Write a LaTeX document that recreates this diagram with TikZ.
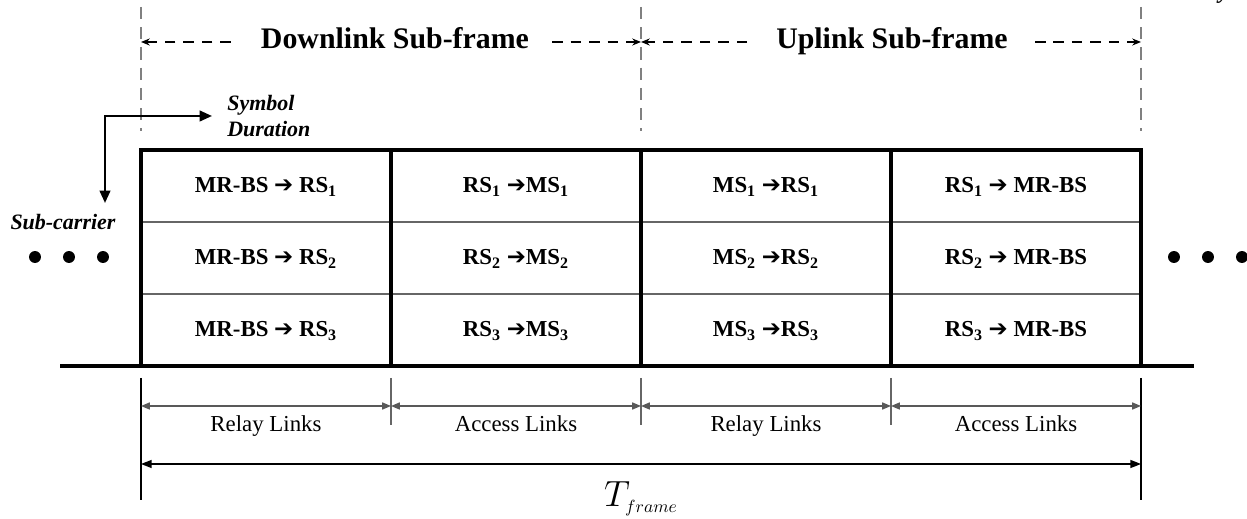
\documentclass[tikz,border=0pt]{standalone}
\usepackage{fontspec}
\setmainfont{Liberation Serif}
\newfontfamily\symfont{DejaVu Sans}
\usetikzlibrary{arrows.meta}

% link arrow used inside the cells
\newcommand\hop{{\symfont\fontsize{13}{14}\selectfont ➔}}
\newcommand\sub[1]{\textsubscript{#1}}

\tikzset{
  frameline/.style={line width=2pt, line cap=rect},
  rowline/.style={draw=black!60, line width=0.7pt},
  guide/.style={draw=black!50, line width=0.8pt, dash pattern=on 7pt off 4.5pt},
  headarrow/.style={line width=0.7pt, dash pattern=on 6pt off 4.5pt, -{Stealth[length=5pt,width=4pt]}},
  headtext/.style={font=\fontsize{17}{20}\selectfont\bfseries, inner sep=0pt, anchor=base},
  cell/.style={font=\fontsize{13}{15}\selectfont\bfseries, anchor=base},
  tag/.style={font=\fontsize{12.5}{14.7}\selectfont\bfseries\itshape, align=left, inner sep=0pt},
  dim/.style={draw=black!65, line width=0.7pt, {Triangle[length=5pt,width=4pt]}-{Triangle[length=5pt,width=4pt]}},
  span/.style={draw=black, line width=0.8pt, {Triangle[length=6pt,width=4.5pt]}-{Triangle[length=6pt,width=4.5pt]}},
  dimtext/.style={font=\fontsize{13}{15}\selectfont, anchor=base},
  bigtick/.style={line width=1.5pt},
  smalltick/.style={draw=black!60, line width=0.7pt},
  dot/.style={circle, fill, inner sep=0pt, minimum size=6.8pt},
  elbow/.style={line width=1.3pt, {Triangle[length=7pt,width=6pt]}-{Triangle[length=7pt,width=6pt]}},
}

\begin{document}
\begin{tikzpicture}[x=0.02cm, y=-0.02cm]
\useasboundingbox (0,0) rectangle (1247,519);

% column boundaries of the frame
\foreach \i/\x in {0/141,1/391,2/641,3/891,4/1141} {
  \coordinate (t\i) at (\x,150);
  \coordinate (b\i) at (\x,366);
  \coordinate (g\i) at (\x,7);
  \coordinate (h\i) at (\x,131);
  \coordinate (k\i) at (\x,378);
  \coordinate (a\i) at (\x,406);
}

% sub-frame guides
\draw[guide] (g0) -- (h0);
\draw[guide] (g2) -- (h2);
\draw[guide] (g4) -- (h4);

% sub-frame headings
\node[headtext] (dl) at (395,49) {Downlink Sub-frame};
\node[headtext] (ul) at (892,49) {Uplink Sub-frame};
\coordinate (hy) at (0,42);
\draw[headarrow] ([xshift=-17pt]dl.west |- hy) -- (g0 |- hy);
\draw[headarrow] ([xshift=13pt]dl.east |- hy) -- (g2 |- hy);
\draw[headarrow] ([xshift=-16.4pt]ul.west |- hy) -- (g2 |- hy);
\draw[headarrow] ([xshift=15.3pt]ul.east |- hy) -- (g4 |- hy);

% row separators
\draw[rowline] (141,222) -- (1141,222);
\draw[rowline] (141,294) -- (1141,294);

% frame outline and time axis
\draw[frameline] (t0) -- (t4);
\foreach \i in {0,...,4} { \draw[frameline] (t\i) -- (b\i); }
\coordinate (axisL) at (62,366);
\coordinate (axisR) at (1192,366);
\draw[frameline] (axisL) -- (axisR);

% cells (placed on their baselines)
\node[cell] (c11) at (266,193) {MR-BS \hop{} RS\sub1};
\node[cell] (c21) at (266,265) {MR-BS \hop{} RS\sub2};
\node[cell] (c31) at (266,337) {MR-BS \hop{} RS\sub3};
\node[cell] (c12) at (516,193) {RS\sub1 \hop MS\sub1};
\node[cell] (c22) at (516,265) {RS\sub2 \hop MS\sub2};
\node[cell] (c32) at (516,337) {RS\sub3 \hop MS\sub3};
\node[cell] (c13) at (766,193) {MS\sub1 \hop RS\sub1};
\node[cell] (c23) at (766,265) {MS\sub2 \hop RS\sub2};
\node[cell] (c33) at (766,337) {MS\sub3 \hop RS\sub3};
\node[cell] (c14) at (1016,193) {RS\sub1 \hop{} MR-BS};
\node[cell] (c24) at (1016,265) {RS\sub2 \hop{} MR-BS};
\node[cell] (c34) at (1016,337) {RS\sub3 \hop{} MR-BS};

% axis labels
\node[tag, anchor=west] (sd) at (227,116) {Symbol\\Duration};
\node[tag] (sc) at (63,222) {Sub-carrier};
\coordinate (sdtip) at (212,116);
\coordinate (corner) at (105,116);
\coordinate (sctip) at (105,203);
\draw[elbow] (sdtip) -- (corner) -- (sctip);

% continuation dots
\node[dot] (l1) at (35,257) {};
\node[dot] (l2) at (69,257) {};
\node[dot] (l3) at (103,257) {};
\node[dot] (r1) at (1174,257) {};
\node[dot] (r2) at (1208,257) {};
\node[dot] (r3) at (1242,257) {};

% dimension lines
\draw[bigtick] (k0) -- (141,500);
\draw[bigtick] (k4) -- (1141,500);
\foreach \i in {1,2,3} { \draw[smalltick] (k\i) -- ++(0,47); }
\foreach \i/\j in {0/1,1/2,2/3,3/4} { \draw[dim] (a\i) -- (a\j); }
\node[dimtext] (d1) at (266,432) {Relay Links};
\node[dimtext] (d2) at (516,432) {Access Links};
\node[dimtext] (d3) at (766,432) {Relay Links};
\node[dimtext] (d4) at (1016,432) {Access Links};
\coordinate (sL) at (141,464);
\coordinate (sR) at (1141,464);
\draw[span] (sL) -- (sR);
\node[font=\fontsize{20}{22}\selectfont, anchor=base] (tf) at (641,507) {$T_{\scriptscriptstyle frame}$};

% clipped glyph at the top edge
\node[font=\fontsize{13}{15}\selectfont\bfseries\itshape, anchor=base] (cut) at (1224,-1) {y};
\end{tikzpicture}
\end{document}
